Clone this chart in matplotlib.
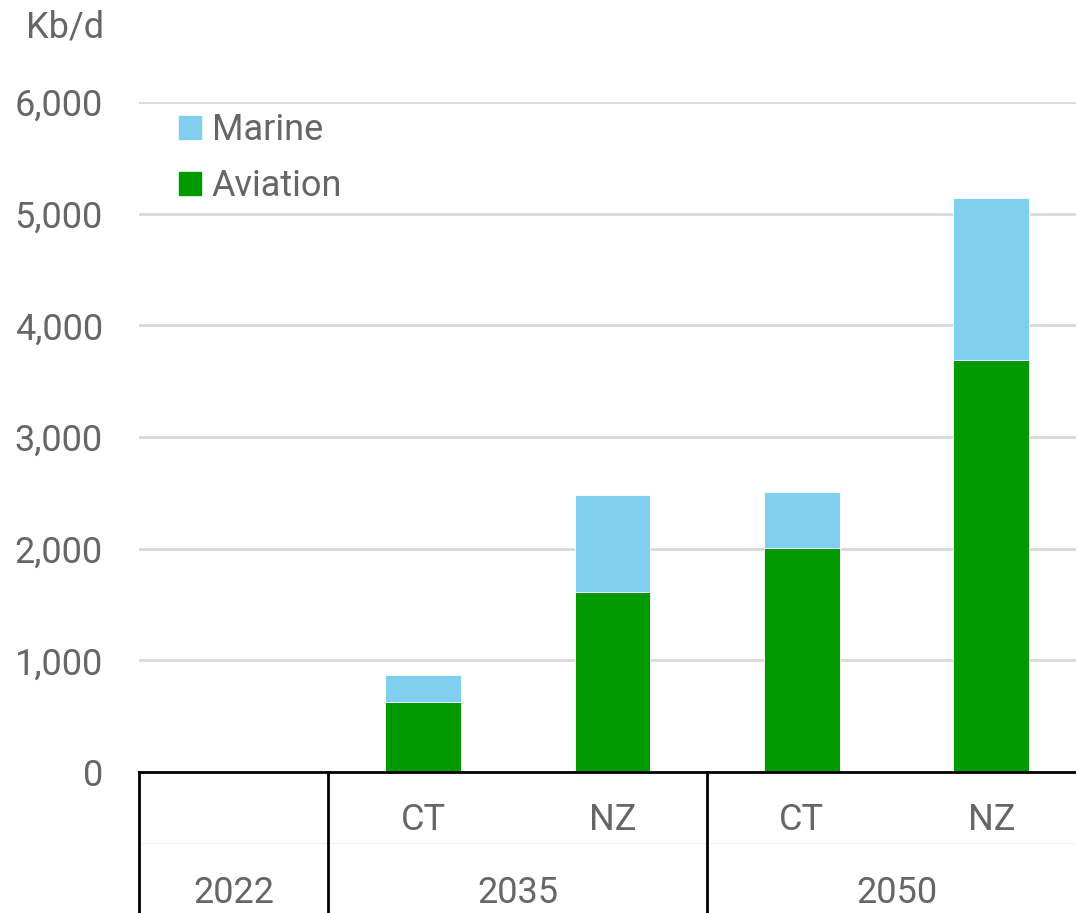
import matplotlib
matplotlib.use("Agg")
import matplotlib.pyplot as plt
import matplotlib.transforms as mtransforms
from matplotlib.patches import Patch
import numpy as np

plt.rcParams['font.family'] = ['Roboto', 'DejaVu Sans']
plt.rcParams['font.size'] = 26

# data (Kb/d)
scenarios = ["", "CT", "NZ", "CT", "NZ"]
years = ["2022", "2035", "2050"]
year_groups = [(0, 0), (1, 2), (3, 4)]  # first/last bar index per year
aviation = [0, 625, 1610, 2005, 3690]
marine = [0, 245, 870, 500, 1450]

text_col = "#666666"
aviation_col = "#009900"
marine_col = "#80CEF0"

fig = plt.figure(figsize=(10.76, 9.13), dpi=100)
# plot area runs a little past the right edge of the picture
ax = fig.add_axes([139 / 1076, 141 / 913, 947 / 1076, 670 / 913])

x = np.arange(len(scenarios))
ax.bar(x, aviation, width=0.40, color=aviation_col, edgecolor="white", linewidth=0.6,
       label="Aviation", zorder=3)
ax.bar(x, marine, width=0.40, bottom=aviation, color=marine_col, edgecolor="white",
       linewidth=0.6, label="Marine", zorder=3)

ax.set_xlim(-0.5, len(scenarios) - 0.5)
ax.set_ylim(0, 6000)
ax.set_yticks(np.arange(0, 6001, 1000))
ax.set_yticklabels([f"{v:,}" for v in range(0, 6001, 1000)], color=text_col)
ax.tick_params(axis="y", length=0, pad=26)
ax.set_xticks([])
ax.grid(axis="y", color="#d9d9d9", linewidth=2, zorder=0)
for s in ["top", "right", "left"]:
    ax.spines[s].set_visible(False)
ax.spines["bottom"].set_color("black")
ax.spines["bottom"].set_linewidth(2)
ax.spines["bottom"].set_zorder(4)

trans = mtransforms.blended_transform_factory(ax.transData, ax.transAxes)

# scenario labels
for i, s in enumerate(scenarios):
    ax.text(i, -0.072, s, transform=trans, ha="center", va="center",
            color=text_col)

# year labels and separators
for (a, b), yr in zip(year_groups, years):
    ax.text((a + b) / 2, -0.18, yr, transform=trans, ha="center", va="center",
            color=text_col)
seps = [-0.5] + [b + 0.5 for a, b in year_groups]
for sx in seps:
    ax.plot([sx, sx], [0, -0.25], transform=trans, color="black", linewidth=2,
            clip_on=False, zorder=5)
ax.plot([-0.5, len(scenarios) - 0.5], [-0.106, -0.106], transform=trans,
        color="#f2f2f2", linewidth=1, clip_on=False, zorder=1)

# unit label
fig.text(65 / 1076, 1 - 28 / 913, "Kb/d", ha="center", va="center",
         color=text_col)

# legend
handles = [Patch(color=marine_col, label="Marine"),
           Patch(color=aviation_col, label="Aviation")]
leg = ax.legend(handles=handles, loc="upper left", bbox_to_anchor=(0.027, 1.006),
                frameon=False, fontsize=26, handlelength=0.6, handleheight=0.6,
                handletextpad=0.3, labelspacing=0.55, borderaxespad=0.0)
for t in leg.get_texts():
    t.set_color(text_col)

fig.savefig("out.png", dpi=100)
